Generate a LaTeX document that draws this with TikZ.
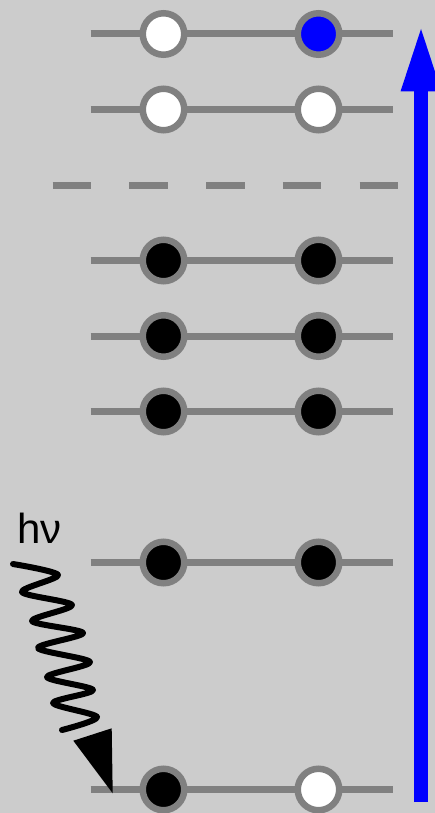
\documentclass[tikz,border=0pt]{standalone}
\usepackage{fontspec}
\setmainfont{Liberation Sans}
\definecolor{bg}{HTML}{CCCCCC}
\definecolor{lev}{HTML}{808080}
\definecolor{eblue}{HTML}{0000FF}
\begin{document}
\begin{tikzpicture}[x=1pt,y=-1pt,
  level/.style={draw=lev,line width=7pt},
  orb/.style={circle,draw=lev,line width=6.5pt,minimum size=41.5pt,inner sep=0pt},
  occ/.style={orb,fill=black},
  vac/.style={orb,fill=white},
  exc/.style={orb,fill=eblue},
  photon/.style={draw=black,line width=6pt,line join=round,line cap=round}]
\clip (0,0) rectangle (435,813);
\fill[bg] (0,0) rectangle (435,813);
% levels
\foreach \n/\y in {1/34,2/109.5,4/260.5,5/336,6/411.5,7/562.5,8/789.5}{
  \coordinate (s\n) at (90.7,\y);
  \coordinate (e\n) at (393.3,\y);
  \draw[level] (s\n) -- (e\n);
}
% dashed level
\coordinate (ds) at (52.7,185.5);
\coordinate (de) at (398,185.5);
\draw[level,line width=7.5pt,dash pattern=on 38.5pt off 38.2pt] (ds) -- (de);
% orbitals
\node[vac] (l1) at (163.5,34) {};
\node[exc] (r1) at (318.5,34) {};
\node[vac] (l2) at (163.5,109.5) {};
\node[vac] (r2) at (318.5,109.5) {};
\foreach \n/\y in {4/260.5,5/336,6/411.5,7/562.5}{
  \node[occ] (l\n) at (163.5,\y) {};
  \node[occ] (r\n) at (318.5,\y) {};
}
\node[occ] (l8) at (163.5,789.5) {};
\node[vac] (r8) at (318.5,789.5) {};
% blue arrow
\coordinate (abot) at (421,802);
\coordinate (atop) at (421,91);
\draw[eblue,line width=14.5pt] (abot) -- (atop);
\fill[eblue] (421,29) -- (400.5,91.5) -- (441.5,91.5) -- cycle;
% photon
\node[anchor=base west,inner sep=0pt,font=\fontsize{42}{48}\selectfont] (hv) at (17,543) {hν};
\draw[photon] plot[smooth,tension=0.5] coordinates {
  (13,564) (58,575) (22,592) (72,605) (32,621) (83,633) (38,648)
  (90,662) (47,677) (93,690) (53,703) (97,717) (62,730)};
\fill[black] (73.3,740.7) -- (111.7,728.3) -- (112.7,793.3) -- cycle;
\end{tikzpicture}
\end{document}
